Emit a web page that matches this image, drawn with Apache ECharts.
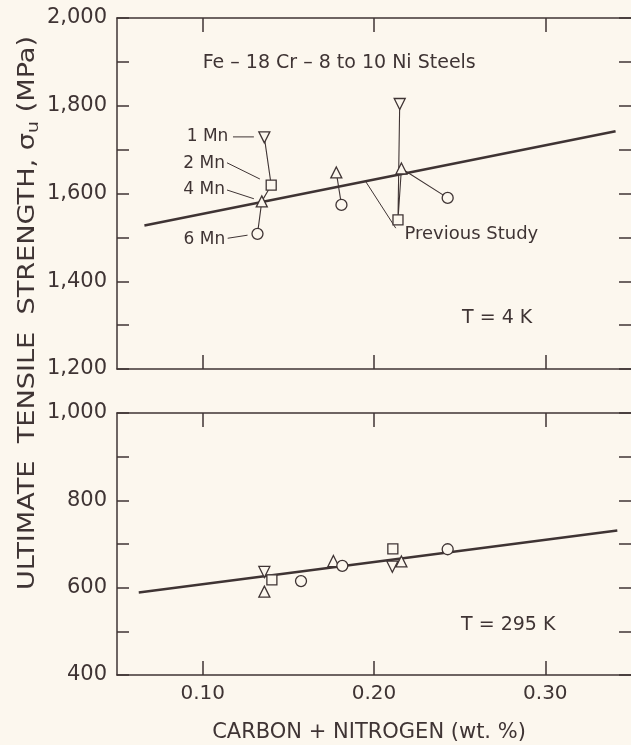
<!DOCTYPE html>
<html><head><meta charset="utf-8">
<script src="https://cdn.jsdelivr.net/npm/echarts@6/dist/echarts.min.js"></script>
<style>html,body{margin:0;padding:0;background:#fcf7ee}#c{width:631px;height:745px}</style>
</head><body><div id="c"></div>
<script>
// ---------------- data ----------------
const mnLevels = ['1 Mn', '2 Mn', '4 Mn', '6 Mn'];
const xTicks = [0.10, 0.20, 0.30];
const yTicksTop = [1200, 1300, 1400, 1500, 1600, 1700, 1800, 1900, 2000];
const yTicksBottom = [400, 500, 600, 700, 800, 900, 1000];

// T = 4 K
const cold1MnX = [0.136, 0.215];          const cold1MnY = [1728, 1804];
const cold2MnX = [0.140, 0.214];          const cold2MnY = [1619, 1540];
const cold4MnX = [0.1345, 0.178, 0.216];  const cold4MnY = [1582, 1648, 1657];
const cold6MnX = [0.132, 0.181, 0.243];   const cold6MnY = [1508, 1574, 1590];
const coldFitX = [0.066, 0.341];          const coldFitY = [1527, 1742];

// T = 295 K
const room1MnX = [0.136, 0.2107];         const room1MnY = [636, 648];
const room2MnX = [0.1404, 0.211];         const room2MnY = [618, 689];
const room4MnX = [0.136, 0.1763, 0.216];  const room4MnY = [591, 661, 660];
const room6MnX = [0.1574, 0.1815, 0.243]; const room6MnY = [615, 650, 688];
const roomFitX = [0.0627, 0.342];         const roomFitY = [589, 731];

// ---------------- styling ----------------
const INK = '#3f3434';
const BG = '#fcf7ee';
const FONT = '"DejaVu Sans", sans-serif';

const pairs = (xs, ys) => xs.map((x, i) => [x, ys[i]]);
const symbolOf = {
  '1 Mn': { symbol: 'triangle', rot: 180, size: 11 },
  '2 Mn': { symbol: 'rect', rot: 0, size: 10 },
  '4 Mn': { symbol: 'triangle', rot: 0, size: 11 },
  '6 Mn': { symbol: 'circle', rot: 0, size: 11 }
};

const coldSets = [pairs(cold1MnX, cold1MnY), pairs(cold2MnX, cold2MnY), pairs(cold4MnX, cold4MnY), pairs(cold6MnX, cold6MnY)];
const roomSets = [pairs(room1MnX, room1MnY), pairs(room2MnX, room2MnY), pairs(room4MnX, room4MnY), pairs(room6MnX, room6MnY)];

// alloy groups joined by thin lines in the 4 K panel
const coldChains = [
  [coldSets[0][0], coldSets[1][0], coldSets[2][0], coldSets[3][0]],
  [coldSets[2][1], coldSets[3][1]],
  [coldSets[0][1], coldSets[1][1], coldSets[2][2], coldSets[3][2]]
];

function xAx(grid, pos, labels) {
  return {
    type: 'value', gridIndex: grid, position: pos, min: 0.05, max: 0.35,
    axisLine: { show: true, onZero: false, lineStyle: { color: INK, width: 1.5 } },
    axisTick: { show: true, inside: true, length: 14, customValues: xTicks, lineStyle: { color: INK, width: 1.5 } },
    axisLabel: { show: labels, customValues: xTicks, margin: 9, color: INK, fontFamily: FONT, fontSize: 20,
      formatter: v => v.toFixed(2) },
    splitLine: { show: false }
  };
}
function yAx(grid, pos, min, max, ticks, labels) {
  return {
    type: 'value', gridIndex: grid, position: pos, min: min, max: max,
    axisLine: { show: pos === 'left', onZero: false, lineStyle: { color: INK, width: 1.5 } },
    axisTick: { show: true, inside: true, length: 12, customValues: ticks, lineStyle: { color: INK, width: 1.5 } },
    axisLabel: { show: labels, customValues: ticks.filter(v => v % 200 === 0), margin: 10, color: INK,
      fontFamily: FONT, fontSize: 21, formatter: v => v.toLocaleString('en-US') },
    splitLine: { show: false }
  };
}

const series = [];
// fits
series.push({ type: 'line', xAxisIndex: 0, yAxisIndex: 0, data: pairs(coldFitX, coldFitY), symbol: 'none',
  lineStyle: { color: INK, width: 2.6 }, z: 1, silent: true });
series.push({ type: 'line', xAxisIndex: 2, yAxisIndex: 2, data: pairs(roomFitX, roomFitY), symbol: 'none',
  lineStyle: { color: INK, width: 2.4 }, z: 1, silent: true });
// chains
coldChains.forEach(ch => series.push({ type: 'line', xAxisIndex: 0, yAxisIndex: 0, data: ch, symbol: 'none',
  lineStyle: { color: INK, width: 1.1 }, z: 2, silent: true }));
// points
mnLevels.forEach((mn, i) => {
  const s = symbolOf[mn];
  [[0, coldSets[i]], [2, roomSets[i]]].forEach(([ax, d]) => series.push({
    type: 'scatter', name: mn, xAxisIndex: ax, yAxisIndex: ax, data: d,
    symbol: s.symbol, symbolRotate: s.rot, symbolSize: s.size, z: 3,
    itemStyle: { color: BG, borderColor: INK, borderWidth: 1.3, opacity: 1 }
  }));
});

const chart = echarts.init(document.getElementById('c'), null, { renderer: 'canvas' });
chart.setOption({
  backgroundColor: BG,
  animation: false,
  grid: [
    { left: 117, top: 18, width: 515, height: 351 },
    { left: 117, top: 413, width: 515, height: 262 }
  ],
  xAxis: [xAx(0, 'bottom', false), xAx(0, 'top', false), xAx(1, 'bottom', true), xAx(1, 'top', false)],
  yAxis: [yAx(0, 'left', 1200, 2000, yTicksTop, true), yAx(0, 'right', 1200, 2000, yTicksTop, false),
          yAx(1, 'left', 400, 1000, yTicksBottom, true), yAx(1, 'right', 400, 1000, yTicksBottom, false)],
  series: series
});

// ---------------- annotations (data coordinates) ----------------
const coldNotes = [
  { text: '1 Mn', at: [0.1150, 1729], line: [[0.1177, 1729], [0.1299, 1729]] },
  { text: '2 Mn', at: [0.1130, 1668], line: [[0.1142, 1670], [0.1334, 1633]] },
  { text: '4 Mn', at: [0.1130, 1608], line: [[0.1142, 1608], [0.1299, 1588]] },
  { text: '6 Mn', at: [0.1132, 1494], line: [[0.1146, 1498], [0.1262, 1505]] }
];
const prevStudy = { text: 'Previous Study', at: [0.2178, 1508], line: [[0.1952, 1627], [0.2127, 1521]] };

const toPx0 = p => chart.convertToPixel({ seriesIndex: 0 }, p);
const toPx1 = p => chart.convertToPixel({ seriesIndex: 1 }, p);

const g = [];
function txt(p, text, size, align) {
  g.push({ type: 'text', x: p[0], y: p[1], silent: true,
    style: { text: text, font: size + 'px ' + FONT, fill: INK, align: align, textAlign: align,
      verticalAlign: 'middle', textVerticalAlign: 'middle' } });
}
function seg(a, b, w) {
  g.push({ type: 'line', silent: true, shape: { x1: a[0], y1: a[1], x2: b[0], y2: b[1] },
    style: { stroke: INK, lineWidth: w } });
}
coldNotes.forEach(n => { txt(toPx0(n.at), n.text, 17, 'right'); seg(toPx0(n.line[0]), toPx0(n.line[1]), 1); });
txt(toPx0(prevStudy.at), prevStudy.text, 18, 'left');
seg(toPx0(prevStudy.line[0]), toPx0(prevStudy.line[1]), 1);
txt(toPx0([0.100, 1897]), 'Fe – 18 Cr – 8 to 10 Ni Steels', 19, 'left');
txt(toPx0([0.2514, 1316]), 'T = 4 K', 19, 'left');
txt(toPx1([0.2508, 514]), 'T = 295 K', 19, 'left');

// axis titles
g.push({ type: 'text', x: 369, y: 733, silent: true,
  style: { text: 'CARBON + NITROGEN (wt. %)', font: '21px ' + FONT, fill: INK, align: 'center', textAlign: 'center',
    verticalAlign: 'middle', textVerticalAlign: 'middle' } });
g.push({ type: 'text', x: 28, y: 313, rotation: Math.PI / 2, scaleX: 1.18, silent: true,
  style: { text: '{a|ULTIMATE  TENSILE  STRENGTH, σ}{s|u}{a| (MPa)}', fill: INK, align: 'center', textAlign: 'center',
    verticalAlign: 'middle', textVerticalAlign: 'middle',
    rich: { a: { font: '23px ' + FONT, fill: INK, color: INK }, s: { font: '16px ' + FONT, fill: INK, color: INK, padding: [12, 0, 0, 0] } } } });

chart.setOption({ graphic: g });
</script></body></html>
